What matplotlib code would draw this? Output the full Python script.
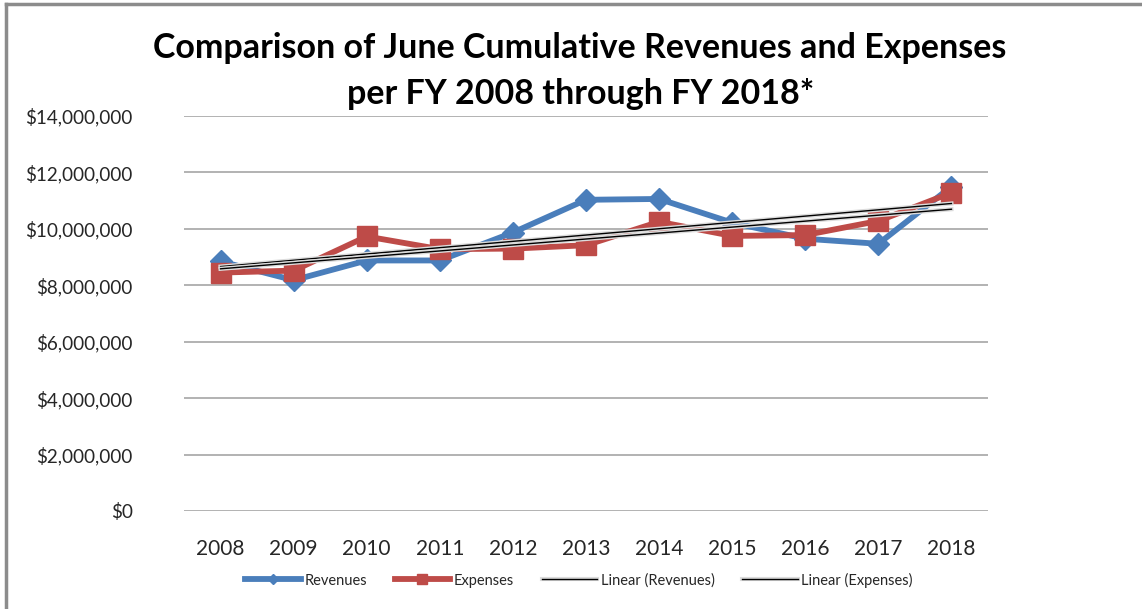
import numpy as np
import matplotlib.pyplot as plt
import matplotlib.patheffects as pe
from matplotlib.lines import Line2D
from matplotlib.ticker import FuncFormatter

years = [2008, 2009, 2010, 2011, 2012, 2013, 2014, 2015, 2016, 2017, 2018]
revenues = [8.85e6, 8.18e6, 8.88e6, 8.88e6, 9.87e6, 11.03e6, 11.06e6, 10.22e6, 9.65e6, 9.47e6, 11.5e6]
expenses = [8.45e6, 8.52e6, 9.73e6, 9.28e6, 9.3e6, 9.42e6, 10.25e6, 9.75e6, 9.78e6, 10.28e6, 11.28e6]

plt.rcParams['font.family'] = ['Lato', 'DejaVu Sans']

fig = plt.figure(figsize=(11.42, 6.09), dpi=100)
ax = fig.add_axes([184 / 1142, 1 - 511 / 609, (988 - 184) / 1142, (511 - 116) / 609])

x = np.arange(len(years))
blue = '#4a7ebb'
red = '#be4b48'

ax.plot(x, revenues, color=blue, lw=4.2, marker='D', ms=11, label='Revenues', zorder=3)
ax.plot(x, expenses, color=red, lw=4.2, marker='s', ms=15, label='Expenses', zorder=4)

halo = [pe.Stroke(linewidth=3, foreground='#dcdcdc'), pe.Normal()]
for series, name in [(revenues, 'Linear (Revenues)'), (expenses, 'Linear (Expenses)')]:
    k, b = np.polyfit(x, series, 1)
    ax.plot(x, k * x + b, color='black', lw=1, label=name, zorder=5, path_effects=halo)

ax.set_xlim(-0.5, len(years) - 0.5)
ax.set_ylim(0, 14e6)
ax.set_yticks(np.arange(0, 14e6 + 1, 2e6))
ax.yaxis.set_major_formatter(FuncFormatter(lambda v, p: '${:,.0f}'.format(v)))
ax.set_xticks(x)
ax.set_xticklabels([str(y) for y in years])
ax.grid(axis='y', color='#a6a6a6', lw=1.2)
ax.set_axisbelow(True)
for s in ax.spines.values():
    s.set_visible(False)
ax.tick_params(length=0, labelsize=15, colors='#262626')
ax.tick_params(axis='y', pad=37, labelsize=13.6)
ax.tick_params(axis='x', pad=20)

fig.text(0.508, 1 - 71 / 609, 'Comparison of June Cumulative Revenues and Expenses\nper FY 2008 through FY 2018*',
         ha='center', va='center', fontsize=24.5, fontweight='bold', linespacing=1.5)

leg = fig.legend(handles=ax.get_lines(), loc='center', bbox_to_anchor=(579 / 1142, 1 - 580 / 609),
                 ncol=4, frameon=False, fontsize=10.5, handlelength=3.8, columnspacing=1.9,
                 handletextpad=0.25, markerscale=0.5)
for t in leg.get_texts():
    t.set_color('#262626')

fig.add_artist(Line2D([6 / 1142, 6 / 1142], [0, 1 - 4 / 609], color='#8c8c8c', lw=2.5))
fig.add_artist(Line2D([6 / 1142, 1], [1 - 4 / 609, 1 - 4 / 609], color='#8c8c8c', lw=2.5))

fig.savefig('out.png', dpi=100)
